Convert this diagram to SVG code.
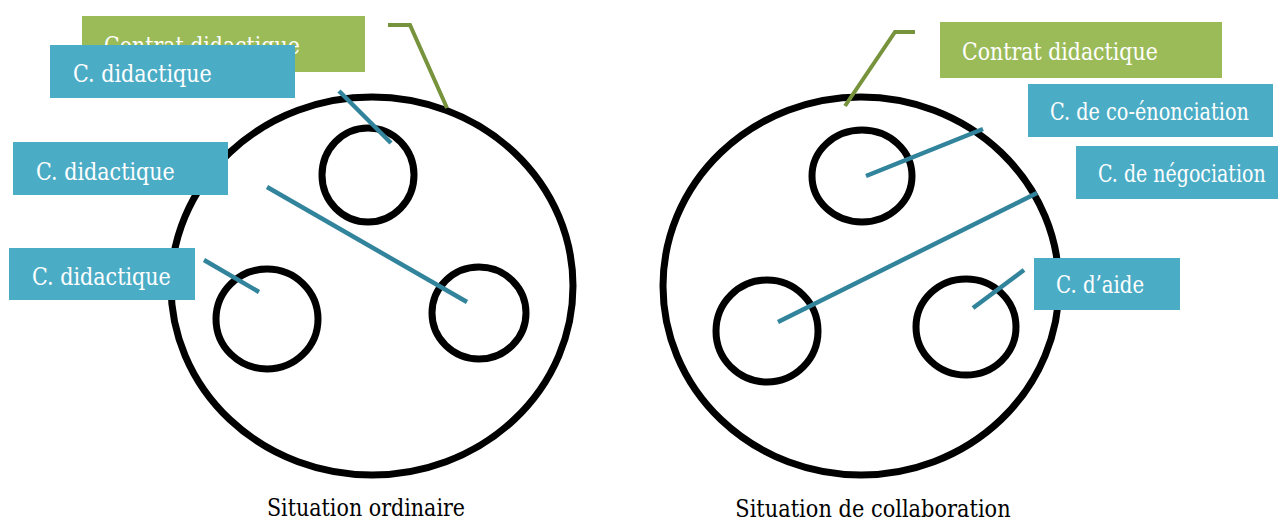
<svg xmlns="http://www.w3.org/2000/svg" width="1278" height="523" viewBox="0 0 1278 523">
<style>
.ring{fill:none;stroke:#000;stroke-width:7}
.green{fill:#9BBB59}
.blue{fill:#4BACC6}
text{font-family:'DejaVu Serif','Liberation Serif',serif;font-size:24px}
.lbl{fill:#fff}
.cap{fill:#000;text-anchor:middle}
.gl{fill:none;stroke:#77933C;stroke-width:4}
.bl{stroke:#31849B;stroke-width:4.5}
</style>
<rect width="1278" height="523" fill="#fff"/>
<g id="left-situation">
<ellipse class="ring" cx="372" cy="286" rx="201" ry="189"/>
<ellipse class="ring" cx="368" cy="175" rx="46" ry="47"/>
<ellipse class="ring" cx="267" cy="319" rx="51" ry="50"/>
<ellipse class="ring" cx="479" cy="313" rx="47" ry="46"/>
</g>
<g id="right-situation">
<ellipse class="ring" cx="861" cy="286" rx="198" ry="189"/>
<ellipse class="ring" cx="862" cy="176" rx="50" ry="46"/>
<ellipse class="ring" cx="767" cy="331" rx="51" ry="51"/>
<ellipse class="ring" cx="966" cy="327" rx="50" ry="48"/>
</g>
<g id="connectors">
<polyline class="gl" points="388,25 410,25 447,108"/>
<polyline class="gl" points="915,32 895,32 845,106"/>
<line class="bl" x1="339" y1="91" x2="391" y2="143"/>
<line class="bl" x1="267" y1="187" x2="467" y2="302"/>
<line class="bl" x1="204" y1="260" x2="259" y2="292"/>
<line class="bl" x1="983" y1="129" x2="866" y2="176"/>
<line class="bl" x1="1037" y1="193" x2="778" y2="322"/>
<line class="bl" x1="1024" y1="270" x2="973" y2="308"/>
</g>
<g id="contrat-left">
<rect class="green" x="82" y="16" width="283" height="56"/>
<text class="lbl" transform="translate(104,54) scale(0.78,1)" textLength="251" lengthAdjust="spacingAndGlyphs">Contrat didactique</text>
</g>
<g id="cd-left-1">
<rect class="blue" x="50" y="45" width="245" height="53"/>
<text class="lbl" transform="translate(73,82) scale(0.78,1)" textLength="178" lengthAdjust="spacingAndGlyphs">C. didactique</text>
</g>
<g id="cd-left-2">
<rect class="blue" x="13" y="142" width="215" height="53"/>
<text class="lbl" transform="translate(36,180) scale(0.78,1)" textLength="178" lengthAdjust="spacingAndGlyphs">C. didactique</text>
</g>
<g id="cd-left-3">
<rect class="blue" x="9" y="248" width="186" height="52"/>
<text class="lbl" transform="translate(32,285) scale(0.78,1)" textLength="178" lengthAdjust="spacingAndGlyphs">C. didactique</text>
</g>
<g id="contrat-right">
<rect class="green" x="940" y="22" width="282" height="56"/>
<text class="lbl" transform="translate(962,60) scale(0.78,1)" textLength="251" lengthAdjust="spacingAndGlyphs">Contrat didactique</text>
</g>
<g id="co-enonciation">
<rect class="blue" x="1028" y="84" width="245" height="53"/>
<text class="lbl" transform="translate(1050,120) scale(0.78,1)" textLength="255" lengthAdjust="spacingAndGlyphs">C. de co-énonciation</text>
</g>
<g id="negociation">
<rect class="blue" x="1076" y="146" width="202" height="53"/>
<text class="lbl" transform="translate(1098,182) scale(0.78,1)" textLength="215" lengthAdjust="spacingAndGlyphs">C. de négociation</text>
</g>
<g id="aide">
<rect class="blue" x="1034" y="258" width="146" height="52"/>
<text class="lbl" transform="translate(1056,293) scale(0.78,1)" textLength="113" lengthAdjust="spacingAndGlyphs">C. d’aide</text>
</g>
<text class="cap" transform="translate(366,516) scale(0.78,1)" textLength="254" lengthAdjust="spacingAndGlyphs">Situation ordinaire</text>
<text class="cap" transform="translate(873,517) scale(0.78,1)" textLength="353" lengthAdjust="spacingAndGlyphs">Situation de collaboration</text>
</svg>
